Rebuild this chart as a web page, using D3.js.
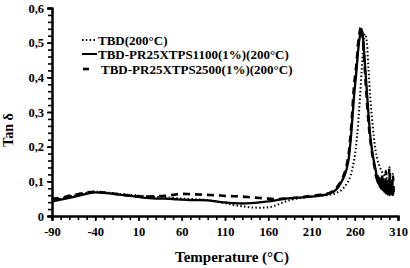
<!DOCTYPE html>
<html><head><meta charset="utf-8">
<script src="https://cdn.jsdelivr.net/npm/d3@7"></script>
<style>
body{margin:0;background:#fff;}
text{font-family:"Liberation Serif","Times New Roman",serif;font-weight:bold;fill:#000;}
</style></head>
<body><svg id="c" width="410" height="268"></svg>
<script>
const xTicks = [-90,-40,10,60,110,160,210,260,310];
const yTicks = [0,0.1,0.2,0.3,0.4,0.5,0.6];
const yTickLabels = ["0","0,1","0,2","0,3","0,4","0,5","0,6"];
const seriesNames = ["TBD(200°C)","TBD-PR25XTPS1100(1%)(200°C)","TBD-PR25XTPS2500(1%)(200°C)"];

const tbdT = [-90,-80,-70,-60,-50,-40,-30,-20,-10,0,10,20,30,40,50,60,70,80,90,100,110,120,130,140,150,160,170,180,190,200,210,220,230,240,245,250,255,258,261,264,266,268,270,272,274,276,278,280,282,284,286,288,290,292,294,296,298,300,302];
const tbdV = [0.045,0.05,0.056,0.062,0.067,0.07,0.068,0.066,0.063,0.061,0.059,0.057,0.055,0.054,0.052,0.05,0.049,0.048,0.046,0.042,0.037,0.032,0.028,0.025,0.024,0.025,0.032,0.042,0.049,0.053,0.056,0.058,0.061,0.068,0.076,0.09,0.115,0.145,0.19,0.27,0.34,0.42,0.49,0.525,0.5,0.42,0.34,0.28,0.23,0.19,0.165,0.148,0.135,0.125,0.118,0.112,0.108,0.105,0.1];

const s1100T = [-90,-80,-70,-60,-50,-40,-30,-20,-10,0,10,20,30,40,50,60,70,80,90,100,110,120,130,140,150,160,170,180,190,200,210,220,230,235,240,245,250,253,256,259,262,264,266,268,270,272,274,276,278,280,282,284,285,286,287,288,289,290,291,292,293,294,295,296,297,298,299,300,301,302,303,304,305];
const s1100V = [0.042,0.047,0.052,0.058,0.064,0.068,0.067,0.064,0.061,0.058,0.055,0.052,0.05,0.05,0.049,0.047,0.046,0.046,0.045,0.042,0.039,0.037,0.036,0.037,0.039,0.042,0.046,0.05,0.052,0.054,0.056,0.059,0.064,0.07,0.08,0.1,0.13,0.165,0.24,0.34,0.42,0.48,0.52,0.54,0.5,0.43,0.36,0.29,0.23,0.19,0.16,0.135,0.12,0.1,0.115,0.09,0.11,0.08,0.1,0.075,0.095,0.07,0.09,0.065,0.085,0.062,0.09,0.06,0.08,0.062,0.085,0.06,0.075];

const s2500T = [-90,-80,-70,-60,-50,-40,-30,-20,-10,0,10,20,30,40,50,60,70,80,90,100,110,120,130,140,150,160,170,180,190,200,210,220,230,235,240,245,250,253,256,259,262,264,266,267,269,271,273,275,277,279,281,283,284,285,286,287,288,289,290,291,292,293,294,295,296,297,298,299,300,301,302,303,304,305];
const s2500V = [0.05,0.052,0.058,0.063,0.068,0.07,0.068,0.065,0.062,0.059,0.057,0.056,0.057,0.058,0.061,0.064,0.063,0.062,0.061,0.06,0.058,0.057,0.056,0.054,0.052,0.05,0.049,0.05,0.052,0.055,0.058,0.061,0.066,0.072,0.085,0.105,0.14,0.18,0.26,0.37,0.44,0.5,0.535,0.545,0.52,0.45,0.37,0.3,0.24,0.2,0.165,0.14,0.125,0.11,0.12,0.095,0.11,0.085,0.1,0.08,0.12,0.075,0.1,0.072,0.13,0.07,0.095,0.068,0.14,0.07,0.1,0.065,0.12,0.07];

const svg = d3.select("#c");
const x = d3.scaleLinear().domain([-90,310]).range([52,398]);
const y = d3.scaleLinear().domain([0,0.6]).range([216,8]);

const gx = svg.append("g").attr("transform","translate(0,216)");
gx.call(d3.axisBottom(x).tickValues(d3.range(-90,311,10)).tickSize(4).tickFormat(""));
const gx2 = svg.append("g").attr("transform","translate(0,216)");
gx2.call(d3.axisBottom(x).tickValues(xTicks).tickSize(5).tickFormat(d=>d));
[gx,gx2].forEach(g=>{g.selectAll("path,line").attr("stroke","#000").attr("stroke-width",1.6);});
gx2.selectAll("text").attr("font-size",12.5).attr("dy","0.95em").attr("font-family","Liberation Serif").attr("font-weight","bold");

const gy = svg.append("g").attr("transform","translate(52,0)");
gy.call(d3.axisLeft(y).tickValues(d3.range(0,0.6001,0.02)).tickSize(4).tickFormat(""));
const gy2 = svg.append("g").attr("transform","translate(52,0)");
gy2.call(d3.axisLeft(y).tickValues(yTicks).tickSize(5).tickFormat((d,i)=>yTickLabels[i]));
[gy,gy2].forEach(g=>{g.selectAll("path,line").attr("stroke","#000").attr("stroke-width",1.6);});
gy2.selectAll("text").attr("font-size",12.5).attr("x",-8).attr("font-family","Liberation Serif").attr("font-weight","bold");
svg.selectAll(".domain").attr("stroke-width",2);

const line = d3.line().x(d=>x(d[0])).y(d=>y(d[1])).curve(d3.curveMonotoneX);
const mk = (T,V)=>T.map((t,i)=>[t,V[i]]);

svg.append("path").datum(mk(s1100T,s1100V)).attr("d",line)
  .attr("fill","none").attr("stroke","#000").attr("stroke-width",2.3);
svg.append("path").datum(mk(s2500T,s2500V)).attr("d",line)
  .attr("fill","none").attr("stroke","#000").attr("stroke-width",2.6).attr("stroke-dasharray","7,5");
svg.append("path").datum(mk(tbdT,tbdV)).attr("d",line)
  .attr("fill","none").attr("stroke","#000").attr("stroke-width",2).attr("stroke-dasharray","1.5,2.3");

const leg = svg.append("g");
const rows = [{y:40,dash:"1.5,2.3",x1:82,x2:97,w:2},{y:54,dash:null,x1:82,x2:97,w:2},{y:69,dash:null,x1:83,x2:89,w:2.6}];
rows.forEach((r,i)=>{
  leg.append("line").attr("x1",r.x1).attr("x2",r.x2).attr("y1",r.y).attr("y2",r.y)
    .attr("stroke","#000").attr("stroke-width",r.w).attr("stroke-dasharray",r.dash);
  leg.append("text").attr("x",i===2?101:98).attr("y",r.y).attr("dy","0.35em").attr("font-size",13).text(seriesNames[i]);
});

svg.append("text").attr("x",232).attr("y",262).attr("text-anchor","middle").attr("font-size",15).text("Temperature (°C)");
svg.append("text").attr("transform","translate(13,130) rotate(-90)").attr("text-anchor","middle").attr("font-size",14).text("Tan δ");
</script></body></html>
